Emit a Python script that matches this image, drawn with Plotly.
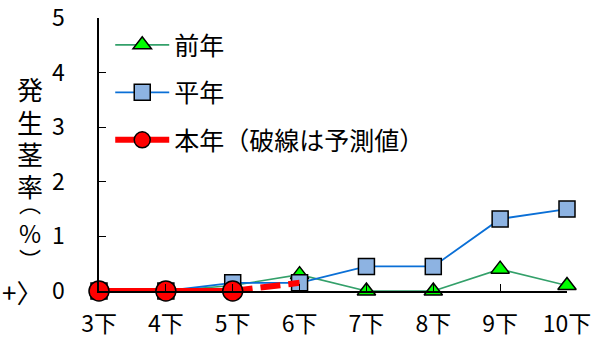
import plotly.graph_objects as go

categories = ["3下", "4下", "5下", "6下", "7下", "8下", "9下", "10下"]
prev_year = [0, 0, 0.1, 0.3, 0, 0, 0.4, 0.1]
normal_year = [0, 0, 0.15, 0.15, 0.45, 0.45, 1.32, 1.5]
this_year_x = ["3下", "4下", "5下"]
this_year = [0, 0, 0]
forecast_x = ["5下", "6下"]
forecast = [0, 0.15]
yticks = [0, 1, 2, 3, 4, 5]
ytitle_chars = ["発", "生", "茎", "率", "︵", "%", "︶"]
ytitle_px = [89, 121, 153, 185, 202, 232, 258]
ytitle_sizes = [26, 26, 26, 26, 22, 24, 22]

FONT = "Noto Sans CJK JP"
L, R, T, B = 99, 39, 18, 47
PW = 606 - L - R
PH = 338 - T - B

fig = go.Figure()
fig.add_trace(go.Scatter(
    x=categories, y=prev_year, name="前年", mode="lines+markers",
    line=dict(color="#33a06a", width=1.6),
    marker=dict(symbol="triangle-up", size=16, color="#00ff00",
                line=dict(color="black", width=1.5)),
    legendgroup="a", cliponaxis=False))
fig.add_trace(go.Scatter(
    x=categories, y=normal_year, name="平年", mode="lines+markers",
    line=dict(color="#0a6fd6", width=1.8),
    marker=dict(symbol="square", size=16, color="#8db3e2",
                line=dict(color="black", width=1.5)),
    legendgroup="b", cliponaxis=False))
fig.add_trace(go.Scatter(
    x=forecast_x, y=forecast, mode="lines", showlegend=False,
    line=dict(color="#ff0000", width=6, dash="20px,8px"),
    legendgroup="c", cliponaxis=False))
fig.add_trace(go.Scatter(
    x=this_year_x, y=this_year, name="本年（破線は予測値）", mode="lines+markers",
    line=dict(color="#ff0000", width=6),
    marker=dict(symbol="circle", size=20, color="#ff0000",
                line=dict(color="black", width=1.5)),
    legendgroup="c", cliponaxis=False))

fig.update_layout(
    width=606, height=338,
    margin=dict(l=L, r=R, t=T, b=B, autoexpand=False),
    paper_bgcolor="white", plot_bgcolor="white",
    font=dict(family=FONT, size=23, color="black"),
    showlegend=True,
    legend=dict(x=0.024, y=0.985, xanchor="left", yanchor="top",
                bgcolor="rgba(0,0,0,0)", font=dict(family=FONT, size=25),
                itemwidth=54, tracegroupgap=12, traceorder="grouped"),
    xaxis=dict(type="category", range=[0, 7], showline=True, linecolor="black",
               linewidth=1.5, ticks="inside", ticklen=7, tickcolor="black",
               showgrid=False, zeroline=False, ticklabelstandoff=12,
               ticklabeloverflow="allow",
               automargin=False, tickfont=dict(family=FONT, size=23)),
    yaxis=dict(range=[0, 5], tickvals=yticks, showline=True, linecolor="black",
               linewidth=1.5, ticks="inside", ticklen=7, tickcolor="black",
               showgrid=False, zeroline=False, ticklabelstandoff=28,
               ticklabeloverflow="allow",
               automargin=False, tickfont=dict(family=FONT, size=23)),
)

for ch, py, sz in zip(ytitle_chars, ytitle_px, ytitle_sizes):
    fig.add_annotation(
        text=ch, xref="paper", yref="paper",
        x=(30 - L) / PW, y=(338 - B - py) / PH,
        xanchor="center", yanchor="middle", showarrow=False,
        font=dict(family=FONT, size=sz))
fig.add_annotation(
    text="+〉", xref="paper", yref="y", x=(44 - L) / PW, y=0,
    xanchor="right", yanchor="middle", showarrow=False,
    font=dict(family=FONT, size=26))

fig.write_html("out.html")
